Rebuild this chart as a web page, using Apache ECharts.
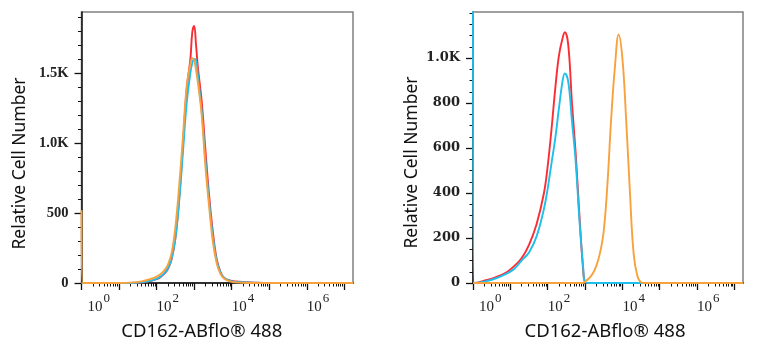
<!DOCTYPE html>
<html>
<head>
<meta charset="utf-8">
<script src="https://cdn.jsdelivr.net/npm/echarts@6/dist/echarts.min.js"></script>
<style>
html, body { margin: 0; padding: 0; background: #fff; }
#main { width: 757px; height: 350px; }
</style>
</head>
<body>
<div id="main"></div>
<script>
// x values are log10 of the fluorescence intensity
var leftX      = [0, 0.03, 1.0, 1.3, 1.6, 1.8, 2.0, 2.1, 2.2, 2.3, 2.4, 2.5, 2.6, 2.7, 2.8, 2.9, 2.95, 3.0, 3.05, 3.1, 3.2, 3.3, 3.4, 3.5, 3.6, 3.7, 3.8, 4.0, 4.3, 4.6, 5.0, 7.23];
var leftRed    = [0, 0, 0, 0, 4, 12, 28, 42, 65, 100, 170, 320, 600, 980, 1380, 1600, 1790, 1835, 1700, 1540, 1300, 950, 620, 360, 170, 80, 35, 14, 8, 3, 0, 0];
var leftBlue   = [0, 0, 0, 0, 5, 14, 30, 45, 68, 105, 175, 320, 580, 930, 1280, 1500, 1570, 1600, 1590, 1480, 1230, 880, 580, 330, 160, 75, 35, 12, 5, 2, 0, 0];
var leftOrange = [520, 0, 0, 3, 12, 25, 45, 62, 88, 130, 215, 400, 690, 1040, 1400, 1565, 1605, 1590, 1520, 1430, 1200, 830, 540, 290, 140, 65, 30, 8, 2, 0, 0, 0];

var rightX      = [0, 0.03, 0.3, 0.6, 0.9, 1.1, 1.3, 1.5, 1.7, 1.9, 2.0, 2.1, 2.2, 2.3, 2.4, 2.46, 2.55, 2.65, 2.75, 2.85, 2.95, 3.0, 3.1, 3.2, 3.3, 3.4, 3.5, 3.6, 3.7, 3.8, 3.9, 4.0, 4.1, 4.2, 4.3, 4.4, 4.5, 4.6, 7.23];
var rightRed    = [0, 0, 10, 25, 48, 75, 110, 170, 260, 400, 520, 680, 860, 1010, 1090, 1115, 1060, 800, 576, 300, 58, 5, 0, 0, 0, 0, 0, 0, 0, 0, 0, 0, 0, 0, 0, 0, 0, 0, 0];
var rightBlue   = [1300, 0, 6, 20, 42, 62, 100, 136, 206, 330, 420, 530, 640, 775, 900, 932, 895, 720, 540, 280, 70, 3, 0, 0, 0, 0, 0, 0, 0, 0, 0, 0, 0, 0, 0, 0, 0, 0, 0];
var rightOrange = [0, 0, 0, 0, 0, 0, 0, 0, 0, 0, 0, 0, 0, 0, 0, 0, 0, 0, 0, 0, 0, 6, 20, 40, 75, 133, 230, 440, 730, 960, 1105, 1000, 730, 410, 133, 32, 3, 0, 0];

var decadeTicks = [0, 1, 2, 3, 4, 5, 6, 7];
var decadeLabels = [0, 2, 4, 6];
var leftYLabels = [0, 500, 1000, 1500];
var rightYLabels = [0, 200, 400, 600, 800, 1000];
var leftYMax = 1935;
var rightYMax = 1205;
var xMax = 7.23;

var minorXTicks = [];
decadeTicks.forEach(function (d) {
    for (var k = 2; k <= 9; k++) {
        var v = d + Math.log10(k);
        if (v < xMax) minorXTicks.push(v);
    }
});
function steps(step, max) {
    var out = [];
    for (var v = 0; v <= max; v += step) out.push(v);
    return out;
}

var RED = '#fa2d35', BLUE = '#1ebfec', ORANGE = '#f8a23e';
var ink = '#111';

function pairs(xs, ys) {
    return xs.map(function (x, i) { return [x, ys[i]]; });
}

function majorX(grid, namePad) {
    return {
        type: 'value', gridIndex: grid, position: 'bottom', min: 0, max: xMax,
        name: 'CD162-ABflo® 488', nameLocation: 'middle', nameGap: 39,
        nameTextStyle: {fontFamily: 'Noto Sans', fontSize: 18.5, color: ink, padding: namePad},
        axisLine: {show: true, lineStyle: {color: ink, width: 1.5}},
        axisTick: {show: true, customValues: decadeTicks, length: 7, lineStyle: {color: ink, width: 1.3}},
        axisLabel: {
            show: true, customValues: decadeLabels, align: 'left', margin: 9,
            formatter: function (v) {
                var e = Math.round(v);
                return (e === 0 ? '{b0|10}' : '{b|10}') + '{s|' + e + '}';
            },
            rich: {
                b: {fontFamily: 'Liberation Serif', fontSize: 15, lineHeight: 30, color: '#222'},
                b0: {fontFamily: 'Liberation Serif', fontSize: 15, lineHeight: 30, color: '#222', padding: [0, 0, 0, 6]},
                s: {fontFamily: 'Liberation Serif', fontSize: 13, lineHeight: 12, verticalAlign: 'top', color: '#222', padding: [0, 0, 0, 1]}
            }
        },
        splitLine: {show: false}
    };
}
function minorX(grid) {
    return {
        type: 'value', gridIndex: grid, position: 'bottom', min: 0, max: xMax,
        axisLine: {show: false},
        axisTick: {show: true, customValues: minorXTicks, length: 3.5, lineStyle: {color: ink, width: 1}},
        axisLabel: {show: false},
        splitLine: {show: false}
    };
}
function majorY(grid, max, labels, namePad, labelFont, labelSize) {
    return {
        type: 'value', gridIndex: grid, position: 'left', min: 0, max: max,
        name: 'Relative Cell Number', nameLocation: 'middle', nameGap: 52,
        nameTextStyle: {fontFamily: 'Noto Sans', fontSize: 17.5, color: ink, padding: namePad},
        axisLine: {show: true, lineStyle: {color: ink, width: 1.5}},
        axisTick: {show: true, customValues: labels, length: 7, lineStyle: {color: ink, width: 1.3}},
        axisLabel: {
            show: true, customValues: labels, margin: 13,
            fontFamily: labelFont, fontWeight: 'bold', fontSize: labelSize, color: '#222',
            formatter: function (v) { return v >= 1000 ? (v / 1000).toFixed(1) + 'K' : String(v); }
        },
        splitLine: {show: false}
    };
}
function minorY(grid, max, step) {
    return {
        type: 'value', gridIndex: grid, position: 'left', min: 0, max: max,
        axisLine: {show: false},
        axisTick: {show: true, customValues: steps(step, max), length: 3.5, lineStyle: {color: ink, width: 1}},
        axisLabel: {show: false},
        splitLine: {show: false}
    };
}
function curve(name, xi, yi, xs, ys, color) {
    return {
        name: name, type: 'line', xAxisIndex: xi, yAxisIndex: yi,
        data: pairs(xs, ys), showSymbol: false, smooth: 0.4,
        lineStyle: {color: color, width: 1.9}, itemStyle: {color: color}
    };
}

var option = {
    animation: false,
    backgroundColor: '#fff',
    grid: [
        {left: 81.5, top: 12, width: 271.5, height: 271, show: true, borderColor: '#808080', borderWidth: 1.5},
        {left: 473, top: 12, width: 270, height: 271, show: true, borderColor: '#808080', borderWidth: 1.5}
    ],
    xAxis: [majorX(0, [0, 31, 0, 0]), minorX(0), majorX(1, [0, 6, 0, 0]), minorX(1)],
    yAxis: [
        majorY(0, leftYMax, leftYLabels, [0, 32, 0, 0], 'Liberation Serif', 14.5),
        minorY(0, leftYMax, 100),
        majorY(1, rightYMax, rightYLabels, [0, 30, 0, 0], 'DejaVu Serif', 13),
        minorY(1, rightYMax, 50)
    ],
    series: [
        curve('red', 0, 0, leftX, leftRed, RED),
        curve('blue', 0, 0, leftX, leftBlue, BLUE),
        curve('orange', 0, 0, leftX, leftOrange, ORANGE),
        curve('red', 2, 2, rightX, rightRed, RED),
        curve('blue', 2, 2, rightX, rightBlue, BLUE),
        curve('orange', 2, 2, rightX, rightOrange, ORANGE)
    ]
};

var myChart = echarts.init(document.getElementById('main'));
myChart.setOption(option);
</script>
</body>
</html>
